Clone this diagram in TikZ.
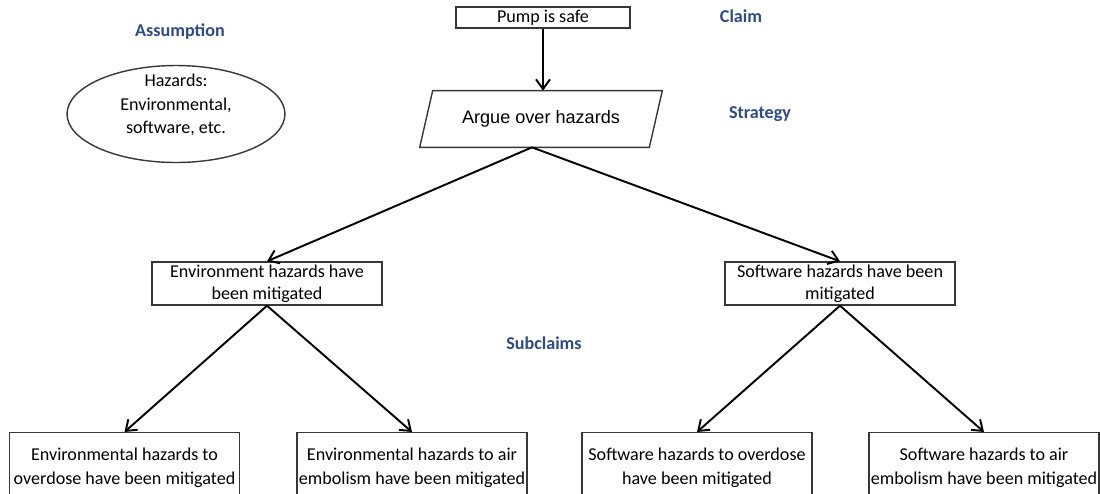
\documentclass[tikz,border=0pt]{standalone}
\usepackage{fontspec}
\setmainfont{Carlito}
\newfontfamily\arialfont{Liberation Sans}
\usepackage{xcolor}
\usetikzlibrary{arrows.meta,positioning,shapes.geometric}
\definecolor{LabBlue}{RGB}{44,74,140}
\definecolor{BoxLine}{RGB}{55,55,55}

\begin{document}
\begin{tikzpicture}[x=0.02cm,y=-0.02cm,font=\fontsize{10.3}{13.4}\selectfont,
  goal/.style={draw=BoxLine,line width=0.8pt,minimum width=4.6cm,inner sep=0pt,align=center},
  lab/.style={text=LabBlue,font=\fontsize{10.3}{13}\selectfont\bfseries},
  arr/.style={-{Straight Barb[length=5.5pt,width=8pt]},line width=1.1pt}]
  \useasboundingbox (0,0) rectangle (1100,494);
  \clip (0,0) rectangle (1100,494);
  % top claim and strategy
  \node[goal,minimum width=3.48cm,minimum height=0.42cm] (pump) at (543,17.5) {Pump is safe};
  \node[lab] (claimlab) at (741,16) {Claim};
  \node[minimum width=4.58cm,minimum height=1.12cm,inner sep=0pt,font=\arialfont\fontsize{10.3}{12}\selectfont] (strat) at (541,119) {Argue over hazards};
  \draw[BoxLine,line width=0.8pt] ([xshift=-0.13cm]strat.south west) -- ([xshift=0.13cm]strat.north west)
    -- ([xshift=0.13cm]strat.north east) -- ([xshift=-0.13cm]strat.south east) -- cycle;
  \node[lab] (stratlab) at (760,114) {Strategy};
  % assumption
  \node[lab] (asslab) at (180,32) {Assumption};
  \node[draw=BoxLine,line width=0.8pt,ellipse,minimum width=4.36cm,minimum height=1.94cm] (hz) at (176,114) {};
  \node[align=center] (hztext) at (176,105) {Hazards:\\Environmental,\\software, etc.};
  % subclaims
  \node[goal,minimum height=0.86cm,font=\fontsize{10.3}{12.3}\selectfont] (envg) at (267,283.5) {Environment hazards have\\been mitigated};
  \node[goal,minimum height=0.86cm,font=\fontsize{10.3}{12.3}\selectfont] (swg) at (840,283.5) {Software hazards have been\\mitigated};
  \node[lab] (sublab) at (544,343) {Subclaims};
  \foreach \n/\xx/\txt in {envod/124.5/{Environmental hazards to\\overdose have been mitigated},
                           envair/412/{Environmental hazards to air\\embolism have been mitigated},
                           swod/697/{Software hazards to overdose\\have been mitigated},
                           swair/984/{Software hazards to air\\embolism have been mitigated}}
    \node[goal,minimum height=1.4cm,anchor=north] (\n) at (\xx,432) {\txt};
  % connectors
  \draw[arr] (pump.south) -- (pump.south |- strat.north);
  \draw[arr] ([xshift=-0.18cm]strat.south) -- (envg.north);
  \draw[arr] ([xshift=-0.18cm]strat.south) -- (swg.north);
  \draw[arr] (envg.south) -- (envod.north);
  \draw[arr] (envg.south) -- (envair.north);
  \draw[arr] (swg.south) -- (swod.north);
  \draw[arr] (swg.south) -- (swair.north);
\end{tikzpicture}
\end{document}
